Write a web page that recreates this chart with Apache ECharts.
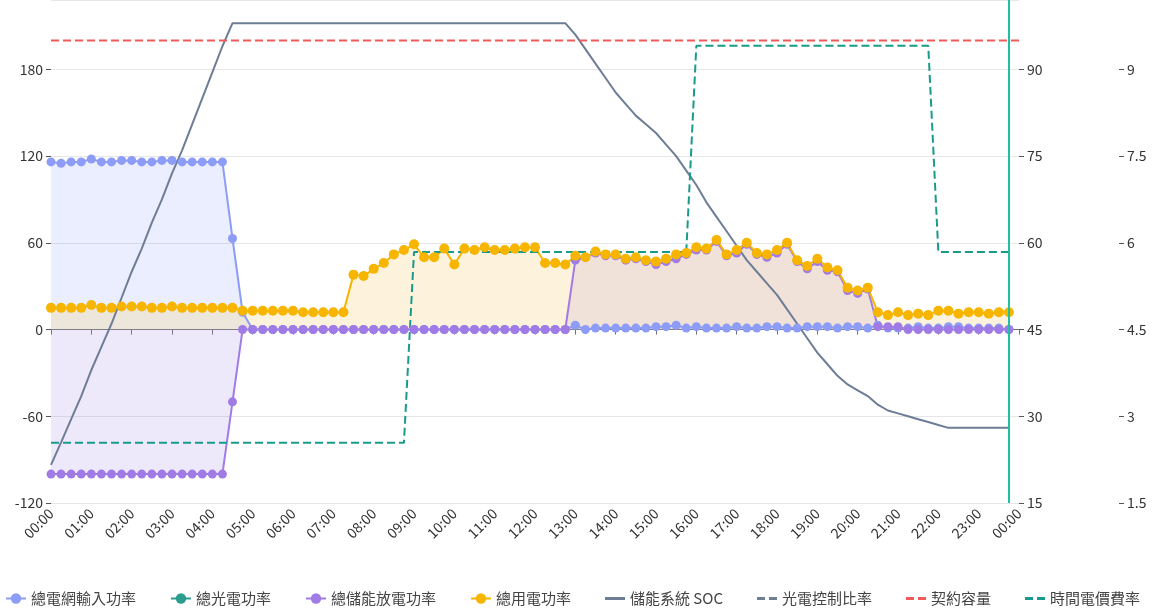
<!DOCTYPE html>
<html><head><meta charset="utf-8">
<script src="https://cdn.jsdelivr.net/npm/echarts@6/dist/echarts.min.js"></script>
<style>html,body{margin:0;padding:0;background:#fff}#c{width:1176px;height:613px}</style>
</head><body><div id="c"></div>
<script>
// 15-min steps from 00:00 to 23:45 (96 points)
const grid = [116,115,116,116,118,116,116,117,117,116,116,117,117,116,116,116,116,116,63,12,
0,0,0,0,0,0,0,0,0,0,0,0,0,0,0,0,0,0,0,0,0,0,0,0,0,0,0,0,0,0,0,0,3,0,1,1,1,1,1,1,2,2,3,1,2,1,1,1,2,1,1,2,2,1,1,2,2,2,1,2,2,1,3,1,1,1,2,1,1,2,2,1,1,1,1,0];
const pv = [];
const load = [15,15,15,15,17,15,15,16,16,16,15,15,16,15,15,15,15,15,15,13,
13,13,13,13,13,12,12,12,12,12,38,37,42,46,52,55,59,50,50,56,45,56,55,57,55,55,56,57,57,46,46,45,
51,50,54,52,52,49,50,48,47,49,52,53,57,56,62,52,55,60,53,52,55,60,48,44,49,43,41,29,27,29,
12,10,12,10,11,10,13,13,11,12,12,11,12,12];
const soc = [21.6,25.5,29.5,33.5,38,42,46,50.5,55,59,63.5,67.5,72,76,80.5,85,89.5,94,98,98,
98,98,98,98,98,98,98,98,98,98,98,98,98,98,98,98,98,98,98,98,98,98,98,98,98,98,98,98,98,98,98,98,
96,93.5,91,88.5,86,84,82,80.5,79,77,75,72.5,70,67,64.5,62,59.5,57,55,53,51,48.5,46,43.5,41,39,
37,35.5,34.5,33.5,32,31,30.5,30,29.5,29,28.5,28,28,28,28,28,28,28];
const tariff = [];
for (let i = 0; i < 96; i++) tariff.push(i <= 35 ? 2.54 : (i <= 63 ? 5.84 : (i <= 87 ? 9.41 : 5.84)));
const discharge = load.map((v, i) => i < 18 ? -100 : i === 18 ? -50 : (i < 52 ? 0 : (i <= 81 ? v - grid[i] : (i <= 84 ? 2 : 0))));
const contract = 200;
const tickLabels = ['00:00','01:00','02:00','03:00','04:00','05:00','06:00','07:00','08:00','09:00','10:00','11:00','12:00','13:00','14:00','15:00','16:00','17:00','18:00','19:00','20:00','21:00','22:00','23:00','00:00'];

const pts = arr => arr.map((v, i) => [i * 15, v]);
const dash = 'path://M0,5h8v3h-8z M12,5h8v3h-8z';
const solid = 'path://M0,5h20v3h-20z';
const chart = echarts.init(document.getElementById('c'));
chart.setOption({
  animation: false,
  textStyle: {fontFamily: 'Noto Sans CJK TC'},
  grid: {left: 51, right: 157, top: 0, bottom: 110},
  legend: {bottom: 2, left: 0, itemGap: 34, itemWidth: 20, itemHeight: 13, textStyle: {fontSize: 15, color: '#444'},
    data: ['總電網輸入功率','總光電功率','總儲能放電功率','總用電功率',
      {name: '儲能系統 SOC', icon: solid}, {name: '光電控制比率', icon: dash},
      {name: '契約容量', icon: dash}, {name: '時間電價費率', icon: dash}]},
  xAxis: {type: 'value', min: 0, max: 1440, interval: 60,
    axisLine: {lineStyle: {color: '#6e7079'}}, axisTick: {show: true},
    splitLine: {show: false},
    axisLabel: {rotate: 45, color: '#333', fontSize: 14, formatter: v => tickLabels[v / 60]}},
  yAxis: [
    {type: 'value', min: -120, max: 228, interval: 60, axisLine: {show: false}, axisLabel: {showMaxLabel: false, color: '#333', fontSize: 14},
      splitLine: {lineStyle: {color: '#e6e6e6'}}},
    {type: 'value', min: 15, max: 102, interval: 15, position: 'right', axisLine: {show: false}, axisLabel: {showMaxLabel: false, color: '#333', fontSize: 14}, splitLine: {show: false}},
    {type: 'value', min: 1.5, max: 10.2, interval: 1.5, position: 'right', offset: 100, axisLine: {show: false}, axisLabel: {showMaxLabel: false, color: '#333', fontSize: 14}, splitLine: {show: false}}
  ],
  series: [
    {name: '總電網輸入功率', type: 'line', data: pts(grid), symbol: 'circle', symbolSize: 9,
      itemStyle: {color: '#8c9cf7'}, lineStyle: {width: 2}, areaStyle: {color: 'rgba(140,156,247,0.25)'}},
    {name: '總光電功率', type: 'line', data: pv, itemStyle: {color: '#2a9d8f'}, symbol: 'circle', areaStyle: {color: 'rgba(42,157,143,0.25)'}},
    {name: '總儲能放電功率', type: 'line', data: pts(discharge), symbol: 'circle', symbolSize: 9,
      itemStyle: {color: '#a07be6'}, lineStyle: {width: 2}, areaStyle: {color: 'rgba(160,123,230,0.25)'}},
    {name: '總用電功率', type: 'line', data: pts(load), symbol: 'circle', symbolSize: 10,
      itemStyle: {color: '#f7b500'}, lineStyle: {width: 2}, areaStyle: {color: 'rgba(247,200,90,0.3)'},
      markLine: {symbol: 'none', silent: true, label: {show: false}, lineStyle: {color: '#1fc0a0', type: 'solid', width: 2},
        data: [{xAxis: 1425}]}},
    {name: '儲能系統 SOC', type: 'line', yAxisIndex: 1, data: pts(soc), symbol: 'none', showSymbol: false,
      itemStyle: {color: '#6e7d96'}, lineStyle: {width: 2}},
    {name: '光電控制比率', type: 'line', yAxisIndex: 1, data: [], itemStyle: {color: '#6e7d96'}, lineStyle: {type: 'dashed'}, symbol: 'none'},
    {name: '契約容量', type: 'line', data: [[0, contract], [1440, contract]], symbol: 'none',
      itemStyle: {color: '#f05a5a'}, lineStyle: {type: 'dashed', width: 2}},
    {name: '時間電價費率', type: 'line', yAxisIndex: 2, data: pts(tariff), symbol: 'none',
      itemStyle: {color: '#1a9a8a'}, lineStyle: {type: 'dashed', width: 2}}
  ]
});
</script></body></html>
